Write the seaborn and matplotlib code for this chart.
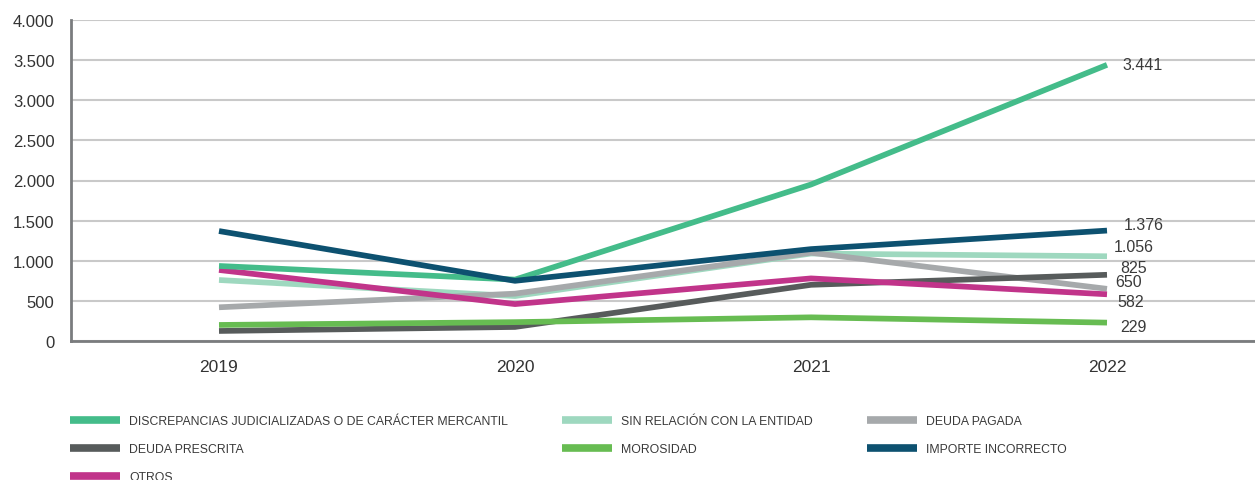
import numpy as np
import pandas as pd
import matplotlib
matplotlib.use("Agg")
import matplotlib.pyplot as plt
from matplotlib.ticker import FuncFormatter, FixedLocator
import seaborn as sns

# %% data
years = [2019, 2020, 2021, 2022]
discrepancias = [935, 765, 1950, 3441]
sin_relacion = [760, 560, 1090, 1056]
deuda_pagada = [420, 590, 1100, 650]
deuda_prescrita = [125, 175, 700, 825]
morosidad = [200, 235, 295, 229]
importe_incorrecto = [1370, 750, 1145, 1376]
otros = [885, 460, 780, 582]

names = ["DISCREPANCIAS JUDICIALIZADAS O DE CARÁCTER MERCANTIL",
         "SIN RELACIÓN CON LA ENTIDAD", "DEUDA PAGADA", "DEUDA PRESCRITA",
         "MOROSIDAD", "IMPORTE INCORRECTO", "OTROS"]
series = [discrepancias, sin_relacion, deuda_pagada, deuda_prescrita,
          morosidad, importe_incorrecto, otros]
colors = ["#44BC8A", "#9ED8BF", "#A6A9AB", "#575B5B", "#67BC52", "#0D5170", "#C1348A"]

# label offsets (pixels) for the 2022 end labels, same order as names
label_dx = [15, 7, 8, 13, 13, 17, 10]
label_dy = [0, 10, 7, 7, -4, 6, -7]

df = pd.DataFrame({
    "year": years * len(names),
    "value": sum(series, []),
    "tipo": [n for n in names for _ in years],
})

# %% plot
sns.set_style("white")
plt.rcParams["font.family"] = ["Liberation Sans", "DejaVu Sans"]

fig = plt.figure(figsize=(12.55, 4.81), dpi=100)
ax = fig.add_axes([71 / 1255, 139 / 481, 1184 / 1255, 321 / 481])

draw_order = [names[i] for i in [1, 2, 3, 4, 6, 0, 5]]
sns.lineplot(data=df, x="year", y="value", hue="tipo", hue_order=draw_order,
             palette=dict(zip(names, colors)), linewidth=4.1, ax=ax,
             legend=False, solid_capstyle="butt")

ax.set_xlim(2018.5, 2022.5)
ax.set_ylim(0, 4000)
ax.set_xticks(years)
ax.set_xticklabels([str(y) for y in years])
ax.xaxis.set_minor_locator(FixedLocator([2019.5, 2020.5, 2021.5]))
ax.set_yticks(range(0, 4001, 500))
ax.yaxis.set_major_formatter(FuncFormatter(lambda v, p: f"{int(v):,}".replace(",", ".")))
ax.set_xlabel("")
ax.set_ylabel("")

ax.grid(axis="y", color="#C9C9C9", linewidth=1.5)
ax.set_axisbelow(True)
for s in ["top", "right"]:
    ax.spines[s].set_visible(False)
for s in ["left", "bottom"]:
    ax.spines[s].set_color("#7A7C7E")
    ax.spines[s].set_linewidth(2)

ax.tick_params(axis="y", length=0, pad=12, labelsize=12, labelcolor="#333333")
ax.tick_params(axis="x", which="major", length=0, pad=13, labelsize=12.5, labelcolor="#333333")
ax.tick_params(axis="x", which="minor", direction="in", length=4, width=1.2, color="#7A7C7E")

for i, (n, s) in enumerate(zip(names, series)):
    ax.annotate(f"{s[-1]:,}".replace(",", "."), xy=(years[-1], s[-1]),
                xytext=(label_dx[i] * 0.72, label_dy[i] * 0.72), textcoords="offset points",
                ha="left", va="center", fontsize=11.5, color="#3A3A3A")

handles = [plt.Line2D([], [], color=c, linewidth=5.5, solid_capstyle="butt") for c in colors]
leg_order = [0, 3, 6, 1, 4, 2, 5]
fig.legend([handles[i] for i in leg_order], [names[i] for i in leg_order],
           loc="upper left", bbox_to_anchor=(59 / 1255, 1 - 405 / 481), ncol=3,
           frameon=False, handlelength=4.1, handletextpad=0.75, columnspacing=4.4,
           labelspacing=1.3, prop={"size": 8.8}, labelcolor="#3A3A3A")

fig.savefig("out.png", dpi=100)
